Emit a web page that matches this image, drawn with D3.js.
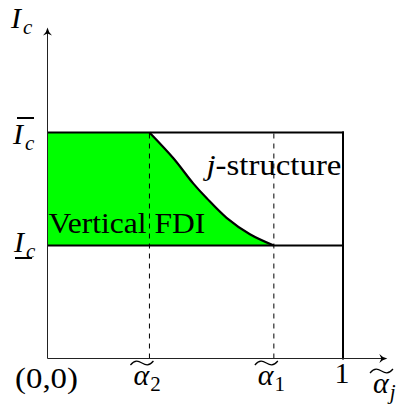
<!DOCTYPE html>
<html>
<head>
<meta charset="utf-8">
<script src="https://cdn.jsdelivr.net/npm/d3@7"></script>
</head>
<body style="margin:0">
<svg id="chart" width="399" height="404"></svg>
<script>
// Thresholds on the horizontal axis
const alpha2 = 0.345;
const alpha1 = 0.766;
const xOne = 1;
// Lower and upper investment levels
const iLow = 1;
const iHigh = 2;
// Boundary curve between vertical FDI and the j-structure
const curveX = [0.345, 0.426, 0.493, 0.539, 0.606, 0.685, 0.766];
const curveY = [2.0, 1.772, 1.55, 1.418, 1.245, 1.10, 1.0];
// Axis extents
const xAxisMax = 1.15;
const yAxisMax = 2.93;

const svg = d3.select("#chart");
const x = d3.scaleLinear().domain([0, 1]).range([47.5, 343]);
const y = d3.scaleLinear().domain([0, 2]).range([358.5, 132.5]);

const curvePts = curveX.map((v, i) => [v, curveY[i]]);
const curveKind = d3.curveCatmullRom.alpha(0.5);

// Layers: marks first, labels on top
const marks = svg.append("g");
const labels = svg.append("g");

function addText(xp, yp, size) {
  return labels.append("text").attr("x", xp).attr("y", yp).attr("font-size", size)
    .attr("font-family", "Liberation Serif")
    .style("font-family", "Liberation Serif");
}

// Green region: rectangle up to alpha2 plus area under the boundary curve
marks.append("rect")
  .attr("x", x(0)).attr("y", y(iHigh))
  .attr("width", x(alpha2) - x(0) + 0.5)
  .attr("height", y(iLow) - y(iHigh))
  .attr("fill", "#00ff00");

const area = d3.area()
  .x(d => x(d[0]))
  .y0(y(iLow))
  .y1(d => y(d[1]))
  .curve(curveKind);
marks.append("path").attr("d", area(curvePts)).attr("fill", "#00ff00");

// Dashed guides at the thresholds
[alpha2, alpha1].forEach(a => {
  marks.append("line")
    .attr("x1", x(a)).attr("x2", x(a))
    .attr("y1", y(0)).attr("y2", y(iHigh))
    .attr("stroke", "#000").attr("stroke-width", 1)
    .attr("stroke-dasharray", "5,5");
});

// Box lines
const thick = 2;
marks.append("line").attr("x1", x(0)).attr("x2", x(xOne) + 1)
  .attr("y1", y(iHigh)).attr("y2", y(iHigh))
  .attr("stroke", "#000").attr("stroke-width", thick);
marks.append("line").attr("x1", x(0)).attr("x2", x(xOne))
  .attr("y1", y(iLow)).attr("y2", y(iLow))
  .attr("stroke", "#000").attr("stroke-width", thick);
marks.append("line").attr("x1", x(xOne)).attr("x2", x(xOne))
  .attr("y1", y(iHigh) - 1).attr("y2", y(0) + 1)
  .attr("stroke", "#000").attr("stroke-width", thick);

// Boundary curve
const line = d3.line().x(d => x(d[0])).y(d => y(d[1])).curve(curveKind);
marks.append("path").attr("d", line(curvePts))
  .attr("fill", "none").attr("stroke", "#000").attr("stroke-width", 2.2);

// Axes with arrowheads
const axisColor = "#222";
marks.append("line").attr("x1", x(0)).attr("x2", x(xAxisMax) - 4)
  .attr("y1", y(0)).attr("y2", y(0))
  .attr("stroke", axisColor).attr("stroke-width", 1);
marks.append("line").attr("x1", x(0)).attr("x2", x(0))
  .attr("y1", y(0)).attr("y2", y(yAxisMax) + 4)
  .attr("stroke", axisColor).attr("stroke-width", 1);

function arrow(tx, ty, dir) {
  const p = d3.path();
  if (dir === "right") {
    p.moveTo(tx, ty);
    p.quadraticCurveTo(tx - 5, ty - 1, tx - 8, ty - 4.5);
    p.lineTo(tx - 6, ty);
    p.lineTo(tx - 8, ty + 4.5);
    p.quadraticCurveTo(tx - 5, ty + 1, tx, ty);
  } else {
    p.moveTo(tx, ty);
    p.quadraticCurveTo(tx + 1, ty + 5, tx + 4.5, ty + 8);
    p.lineTo(tx, ty + 6);
    p.lineTo(tx - 4.5, ty + 8);
    p.quadraticCurveTo(tx - 1, ty + 5, tx, ty);
  }
  p.closePath();
  marks.append("path").attr("d", p.toString()).attr("fill", "#000");
}
arrow(x(xAxisMax), y(0), "right");
arrow(x(0), y(yAxisMax), "up");

// Wide tilde accent
function tilde(x0, x1, yc) {
  const w = x1 - x0;
  const p = d3.path();
  p.moveTo(x0, yc + 2);
  p.bezierCurveTo(x0 + w * 0.2, yc - 3.5, x0 + w * 0.35, yc - 2, x0 + w * 0.5, yc);
  p.bezierCurveTo(x0 + w * 0.65, yc + 2, x0 + w * 0.8, yc + 3.5, x1, yc - 2);
  labels.append("path").attr("d", p.toString())
    .attr("fill", "none").attr("stroke", "#000").attr("stroke-width", 1.2);
}

// Stretch a label horizontally to a target width, anchored at its left edge
function fitWidth(sel, xp, width) {
  const w = sel.node().getComputedTextLength();
  if (w > 0) {
    const k = width / w;
    sel.attr("transform", `translate(${xp},0) scale(${k},1) translate(${-xp},0)`);
  }
  return sel;
}

// Region labels
fitWidth(addText(48.5, 233.5, 29).text("Vertical FDI"), 48.5, 157);
const js = addText(206.5, 175, 29);
js.append("tspan").attr("font-style", "italic").text("j");
js.append("tspan").text("-structure");
fitWidth(js, 206.5, 135);

// Horizontal axis labels
fitWidth(addText(15, 388, 30).text("(0,0)"), 15, 63);
addText(x(xOne) - 1, 383, 30).attr("text-anchor", "middle").text("1");

function alphaLabel(cx, sub, base) {
  const t = addText(cx - 16, base, 30);
  t.append("tspan").attr("font-style", "italic").text("α");
  t.append("tspan").attr("font-size", 21).attr("dy", 6).attr("dx", 1)
    .attr("font-style", sub === "j" ? "italic" : "normal").text(sub);
  tilde(cx - 19, cx + 4, base - 22);
}
alphaLabel(x(alpha2), "2", 385);
alphaLabel(x(alpha1), "1", 385);
alphaLabel(389, "j", 393);

// Vertical axis labels
function iLabel(xl, base, mark) {
  const t = addText(xl, base, 30);
  t.append("tspan").attr("font-style", "italic").text("I");
  t.append("tspan").attr("font-style", "italic").attr("font-size", 21)
    .attr("dy", 6).attr("dx", 2).text("c");
  if (mark === "over") {
    labels.append("line").attr("x1", xl + 4).attr("x2", xl + 21)
      .attr("y1", base - 26).attr("y2", base - 26)
      .attr("stroke", "#000").attr("stroke-width", 2);
  } else if (mark === "under") {
    labels.append("line").attr("x1", xl + 1).attr("x2", xl + 18)
      .attr("y1", base + 6).attr("y2", base + 6)
      .attr("stroke", "#000").attr("stroke-width", 2);
  }
}
iLabel(11, 28, null);
iLabel(13, 144, "over");
iLabel(14, 252, "under");
</script>
</body>
</html>
